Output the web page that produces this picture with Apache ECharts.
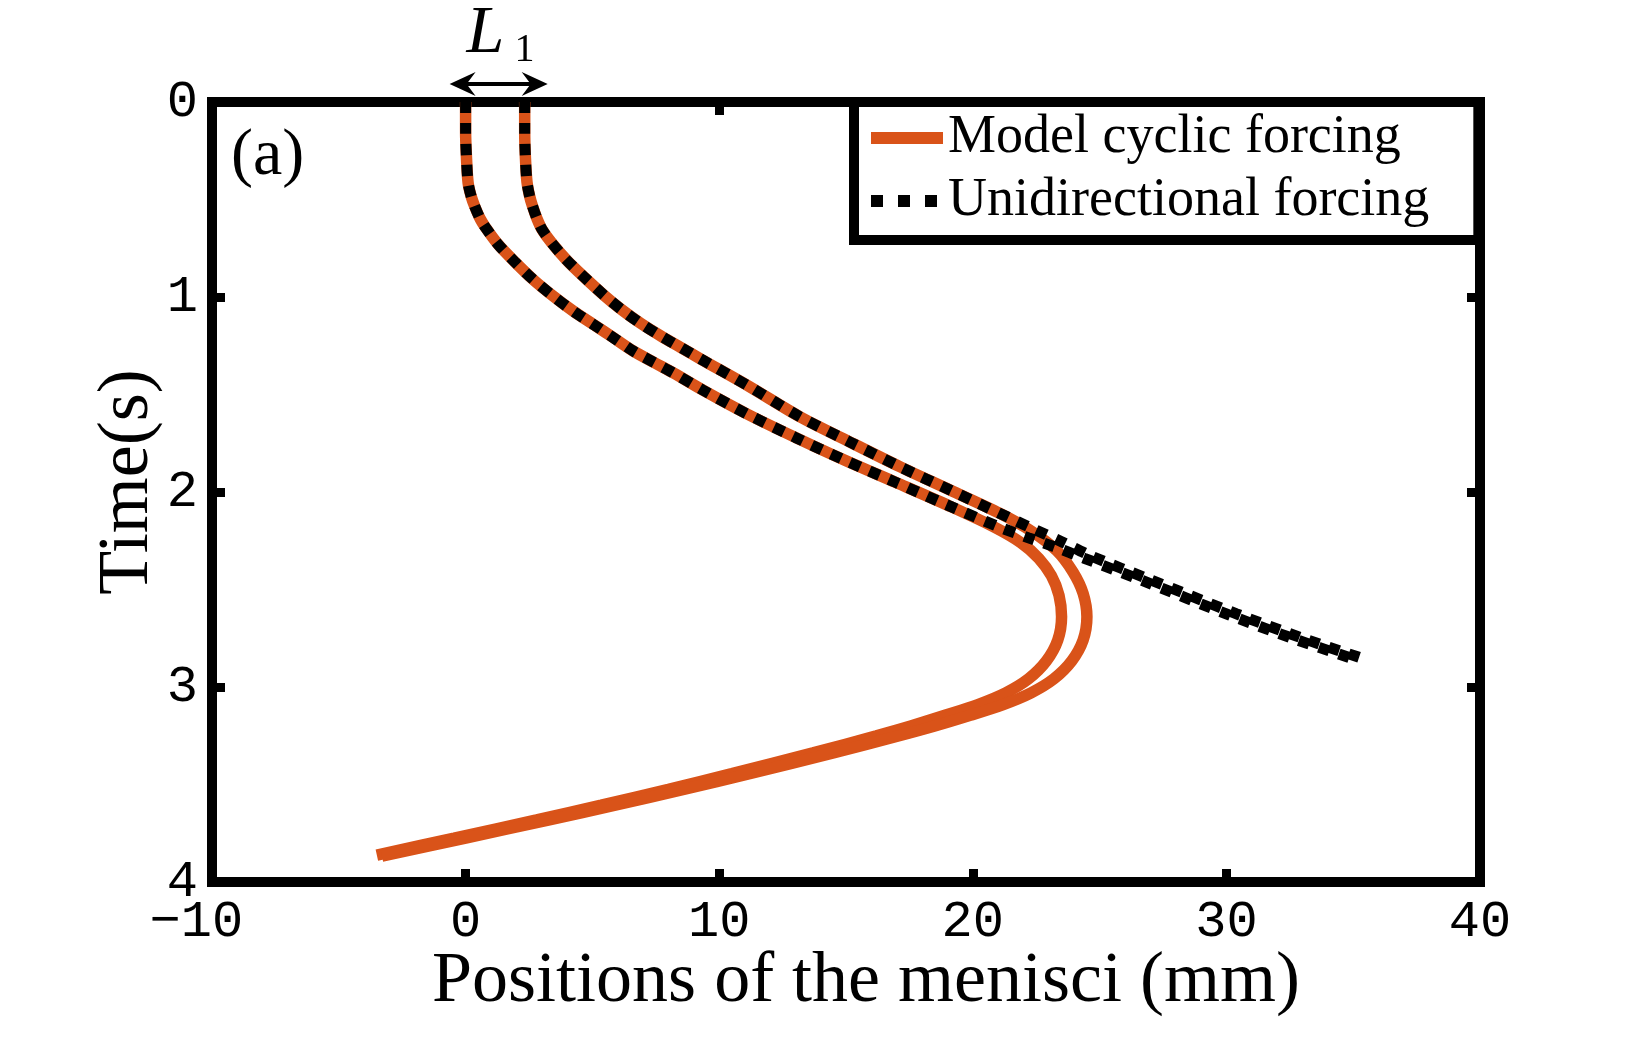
<!DOCTYPE html>
<html>
<head>
<meta charset="utf-8">
<script src="https://cdn.jsdelivr.net/npm/echarts@6/dist/echarts.min.js"></script>
<style>
html, body { margin: 0; padding: 0; background: #fff; }
#menisci { width: 1636px; height: 1046px; }
</style>
</head>
<body>
<div id="menisci"></div>
<script>
// positions (mm) against time (s)
// left meniscus, common part of both forcings
const tLeftEarly = [0, 0.15, 0.3, 0.415, 0.484, 0.535, 0.6, 0.646, 0.73, 0.82, 0.91, 0.995, 1.072, 1.14, 1.208, 1.277, 1.337, 1.39, 1.477, 1.6, 1.72, 1.84, 1.95, 2.07]
const xLeftEarly = [0, 0, 0.04, 0.1, 0.22, 0.36, 0.58, 0.8, 1.28, 1.94, 2.66, 3.45, 4.24, 5.03, 5.82, 6.61, 7.45, 8.2, 9.35, 11.1, 13.0, 15.0, 16.95, 19.05]
// right meniscus, common part of both forcings
const tRightEarly = [0, 0.15, 0.29, 0.41, 0.48, 0.535, 0.6, 0.655, 0.72, 0.81, 0.895, 0.99, 1.065, 1.135, 1.2, 1.26, 1.32, 1.46, 1.614, 1.74, 1.87, 1.99, 2.11]
const xRightEarly = [2.33, 2.33, 2.36, 2.42, 2.52, 2.64, 2.82, 3.02, 3.38, 3.98, 4.65, 5.45, 6.15, 6.9, 7.7, 8.5, 9.3, 11.2, 13.18, 15.1, 17.12, 19.1, 21.07]

// unidirectional forcing, after the split
const tUniLeftLate = [2.18, 2.235, 2.28, 2.34, 2.455, 2.63, 2.75, 2.86]
const xUniLeftLate = [21.05, 22.2, 23.2, 24.4, 26.7, 30.1, 32.6, 35.1]
const tUniRightLate = [2.19, 2.255, 2.33, 2.45, 2.625, 2.745, 2.855]
const xUniRightLate = [22.4, 23.5, 24.7, 27.0, 30.4, 32.9, 35.4]

// model cyclic forcing, after the split
const tCycLeftLate = [2.18, 2.26, 2.34, 2.43, 2.53, 2.64, 2.76, 2.867, 2.958, 3.03, 3.09, 3.145, 3.2, 3.25, 3.338, 3.444, 3.525, 3.606, 3.681, 3.775, 3.862]
const xCycLeftLate = [20.85, 21.9, 22.6, 23.1, 23.4, 23.5, 23.35, 22.9, 22.2, 21.3, 20.2, 18.9, 17.55, 16.2, 13.7, 10.5, 8.0, 5.35, 2.8, -0.45, -3.5]
const tCycRightLate = [2.2, 2.3, 2.41, 2.52, 2.64, 2.76, 2.867, 2.958, 3.03, 3.09, 3.145, 3.2, 3.25, 3.338, 3.444, 3.525, 3.606, 3.681, 3.775, 3.867]
const xCycRightLate = [22.3, 23.3, 23.95, 24.35, 24.5, 24.35, 23.9, 23.2, 22.3, 21.2, 19.9, 18.5, 17.1, 14.5, 11.2, 8.6, 5.9, 3.3, 0, -3.3]

const L1 = 2.33
const xTicks = [-10, 0, 10, 20, 30, 40]
const yTicks = [0, 1, 2, 3, 4]

const orange = '#D95319'

function pairs(xs, ts) {
  const out = []
  for (let i = 0; i < xs.length; i++) {
    out.push([xs[i], ts[i]])
  }
  return out
}

const cycLeft = pairs(xLeftEarly.concat(xCycLeftLate), tLeftEarly.concat(tCycLeftLate))
const cycRight = pairs(xRightEarly.concat(xCycRightLate), tRightEarly.concat(tCycRightLate))
const uniLeft = pairs(xLeftEarly.concat(xUniLeftLate), tLeftEarly.concat(tUniLeftLate))
const uniRight = pairs(xRightEarly.concat(xUniRightLate), tRightEarly.concat(tUniRightLate))

const chart = echarts.init(document.getElementById('menisci'))

const tickFont = {
  color: '#000',
  fontFamily: 'Liberation Mono',
  fontSize: 52
}
const nameFont = {
  color: '#000',
  fontFamily: 'Liberation Serif',
  fontSize: 72
}
const frameLine = {show: true, onZero: false, lineStyle: {color: '#000', width: 10, cap: 'square'}}
const frameTick = {show: true, inside: true, length: 13, lineStyle: {color: '#000', width: 9}}

function cycSeries(data) {
  return {
    name: 'Model cyclic forcing',
    type: 'line',
    data: data,
    symbol: 'none',
    smooth: 0.3,
    lineStyle: {color: orange, width: 11.5},
    itemStyle: {color: orange}
  }
}

function uniSeries(data) {
  return {
    name: 'Unidirectional forcing',
    type: 'line',
    data: data,
    symbol: 'none',
    smooth: 0.3,
    lineStyle: {color: '#000', width: 11, type: [11, 10]},
    itemStyle: {color: '#000'}
  }
}

const option = {
  animation: false,
  backgroundColor: '#fff',
  grid: {left: 212, right: 156, top: 102, bottom: 164},
  xAxis: [
    {
      type: 'value',
      position: 'bottom',
      min: xTicks[0],
      max: xTicks[xTicks.length - 1],
      interval: 10,
      z: 3,
      axisLine: frameLine,
      axisTick: frameTick,
      splitLine: {show: false},
      axisLabel: {
        margin: 14,
        ...tickFont,
        // centre the digits, let the minus sign hang out on the left
        formatter: v => v < 0 ? '\u2212' + (-v) + ' ' : String(v)
      },
      name: 'Positions of the menisci (mm)',
      nameLocation: 'middle',
      nameGap: 64,
      nameMoveOverlap: false,
      nameTextStyle: {...nameFont, padding: [0, 0, 0, 40]}
    },
    {
      type: 'value',
      position: 'top',
      min: xTicks[0],
      max: xTicks[xTicks.length - 1],
      interval: 10,
      z: 3,
      axisLine: frameLine,
      axisTick: frameTick,
      splitLine: {show: false},
      axisLabel: {show: false}
    }
  ],
  yAxis: [
    {
      type: 'value',
      position: 'left',
      inverse: true,
      min: yTicks[0],
      max: yTicks[yTicks.length - 1],
      interval: 1,
      z: 3,
      axisLine: frameLine,
      axisTick: frameTick,
      splitLine: {show: false},
      axisLabel: {margin: 14, ...tickFont},
      name: 'Time(s)',
      nameLocation: 'middle',
      nameGap: 48,
      nameMoveOverlap: false,
      nameTextStyle: {...nameFont, padding: [0, 0, 0, 20]}
    },
    {
      type: 'value',
      position: 'right',
      inverse: true,
      min: yTicks[0],
      max: yTicks[yTicks.length - 1],
      interval: 1,
      z: 3,
      axisLine: frameLine,
      axisTick: frameTick,
      splitLine: {show: false},
      axisLabel: {show: false}
    }
  ],
  legend: {
    orient: 'vertical',
    left: 854,
    top: 102,
    z: 6,
    selectedMode: false,
    padding: [9, 49, 12, 11],
    itemGap: 9,
    itemWidth: 72,
    itemHeight: 12,
    backgroundColor: '#fff',
    borderColor: '#000',
    borderWidth: 10,
    borderRadius: 0,
    textStyle: {color: '#000', fontFamily: 'Liberation Serif', fontSize: 54, lineHeight: 54},
    data: [
      {
        name: 'Model cyclic forcing',
        itemStyle: {opacity: 0},
        lineStyle: {color: orange, width: 12, type: 'solid'}
      },
      {
        name: 'Unidirectional forcing',
        itemStyle: {opacity: 0},
        lineStyle: {color: '#000', width: 12, type: [12, 15]}
      }
    ]
  },
  series: [
    cycSeries(cycLeft),
    cycSeries(cycRight),
    uniSeries(uniLeft),
    uniSeries(uniRight)
  ]
}

chart.setOption(option)

// L1 arrow and panel tag, placed from the axes
const p0 = chart.convertToPixel({xAxisIndex: 0, yAxisIndex: 0}, [0, 0])
const p1 = chart.convertToPixel({xAxisIndex: 0, yAxisIndex: 0}, [L1, 0])
const ay = p0[1] - 18
const xa = p0[0] - 16
const xb = p1[0] + 23
const pLab = chart.convertToPixel({xAxisIndex: 0, yAxisIndex: 0}, [-10, 0])

chart.setOption({
  graphic: [
    {type: 'line', z: 10, shape: {x1: xa + 12, y1: ay, x2: xb - 12, y2: ay}, style: {stroke: '#000', lineWidth: 4}},
    {type: 'polygon', z: 10, shape: {points: [[xa, ay], [xa + 26, ay - 12], [xa + 17, ay], [xa + 26, ay + 12]]}, style: {fill: '#000'}},
    {type: 'polygon', z: 10, shape: {points: [[xb, ay], [xb - 26, ay - 12], [xb - 17, ay], [xb - 26, ay + 12]]}, style: {fill: '#000'}},
    {
      type: 'text', z: 10, x: p0[0] + 1, y: 34,
      style: {text: 'L', fill: '#000', font: 'italic 68px "Liberation Serif"', align: 'left', verticalAlign: 'middle'}
    },
    {
      type: 'text', z: 10, x: p0[0] + 49, y: 50,
      style: {text: '1', fill: '#000', font: '40px "Liberation Serif"', align: 'left', verticalAlign: 'middle'}
    },
    {
      type: 'text', z: 10, x: pLab[0] + 19, y: 157,
      style: {text: '(a)', fill: '#000', font: '66px "Liberation Serif"', align: 'left', verticalAlign: 'middle'}
    }
  ]
})
</script>
</body>
</html>
